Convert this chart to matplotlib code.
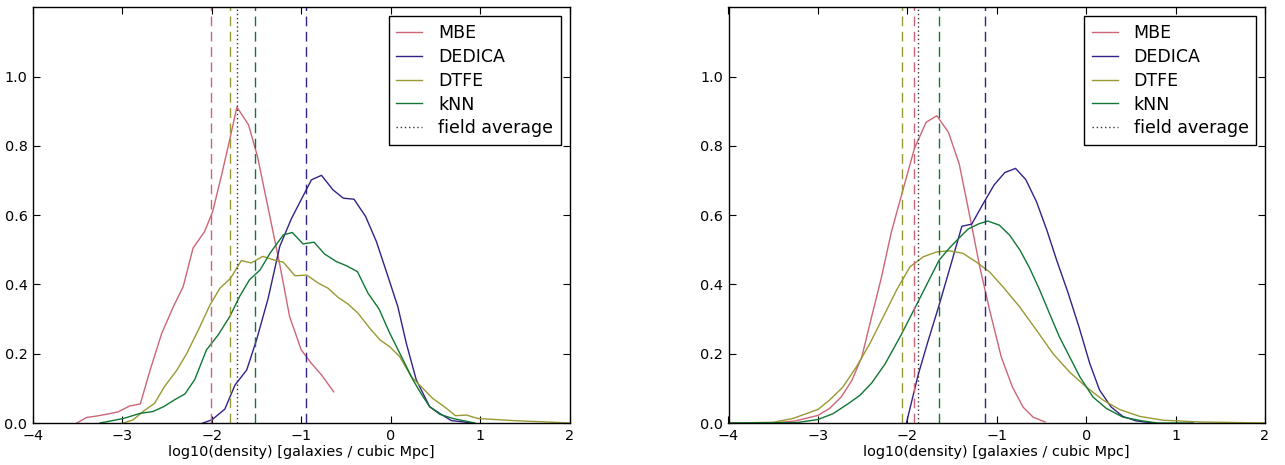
import matplotlib
matplotlib.use("Agg")
import matplotlib.pyplot as plt

# ---------------- data: left panel ----------------
L_mbe_x = [-3.51, -3.40, -3.29, -3.16, -3.05, -2.92, -2.80, -2.69, -2.56, -2.43, -2.32, -2.21,
           -2.08, -1.99, -1.89, -1.80, -1.72, -1.59, -1.49, -1.37, -1.24, -1.13, -1.00, -0.886,
           -0.774, -0.637]
L_mbe_y = [0.0, 0.016, 0.020, 0.026, 0.032, 0.049, 0.055, 0.153, 0.259, 0.336, 0.394, 0.505,
           0.553, 0.611, 0.717, 0.818, 0.912, 0.861, 0.770, 0.620, 0.457, 0.307, 0.211, 0.172,
           0.139, 0.090]

L_ded_x = [-2.10, -2.00, -1.855, -1.74, -1.61, -1.50, -1.37, -1.24, -1.11, -1.00, -0.886, -0.774,
           -0.645, -0.53, -0.41, -0.28, -0.16, -0.048, 0.08, 0.175, 0.287, 0.436, 0.547, 0.678, 0.92]
L_ded_y = [0.0, 0.009, 0.040, 0.110, 0.153, 0.240, 0.360, 0.510, 0.590, 0.645, 0.702, 0.715,
           0.673, 0.649, 0.646, 0.596, 0.524, 0.437, 0.336, 0.230, 0.124, 0.047, 0.028, 0.007, 0.0]

L_dtfe_x = [-2.99, -2.88, -2.77, -2.64, -2.53, -2.39, -2.28, -2.15, -2.02, -1.91, -1.79, -1.67,
            -1.56, -1.43, -1.31, -1.20, -1.07, -0.94, -0.81, -0.70, -0.59, -0.48, -0.365, -0.235,
            -0.12, -0.01, 0.10, 0.23, 0.36, 0.47, 0.60, 0.726, 0.846, 0.975, 1.37, 1.74, 2.0]
L_dtfe_y = [0.0, 0.009, 0.033, 0.057, 0.105, 0.153, 0.201, 0.269, 0.341, 0.389, 0.418, 0.469,
            0.462, 0.481, 0.471, 0.464, 0.425, 0.427, 0.404, 0.389, 0.363, 0.344, 0.317, 0.274,
            0.240, 0.220, 0.192, 0.134, 0.100, 0.071, 0.047, 0.021, 0.023, 0.013, 0.007, 0.003, 0.0]

L_knn_x = [-3.25, -2.99, -2.80, -2.66, -2.54, -2.41, -2.30, -2.19, -2.06, -1.93, -1.80, -1.69,
           -1.58, -1.46, -1.35, -1.20, -1.10, -0.98, -0.857, -0.74, -0.607, -0.495, -0.372,
           -0.254, -0.13, -0.01, 0.12, 0.25, 0.34, 0.436, 0.55, 0.697, 0.94]
L_knn_y = [0.0, 0.013, 0.028, 0.033, 0.047, 0.068, 0.084, 0.126, 0.211, 0.254, 0.307, 0.365,
           0.413, 0.442, 0.490, 0.543, 0.550, 0.517, 0.522, 0.488, 0.466, 0.454, 0.437,
           0.375, 0.329, 0.259, 0.192, 0.124, 0.085, 0.047, 0.025, 0.013, 0.0]

L_vlines = {"MBE": -2.01, "DEDICA": -0.95, "DTFE": -1.795, "kNN": -1.515}
L_field_avg = -1.72

# ---------------- data: right panel ----------------
R_mbe_x = [-4.0, -3.5, -3.25, -3.0, -2.87, -2.74, -2.62, -2.51, -2.40, -2.29, -2.18, -2.05,
           -1.92, -1.79, -1.67, -1.54, -1.42, -1.30, -1.19, -1.08, -0.95, -0.825, -0.706,
           -0.594, -0.46]
R_mbe_y = [0.0, 0.0, 0.006, 0.022, 0.042, 0.075, 0.123, 0.190, 0.306, 0.420, 0.550, 0.672,
           0.793, 0.868, 0.887, 0.839, 0.748, 0.595, 0.451, 0.326, 0.191, 0.104, 0.046,
           0.017, 0.003]

R_ded_x = [-2.01, -1.88, -1.77, -1.645, -1.51, -1.39, -1.28, -1.15, -1.03, -0.91, -0.79, -0.676,
           -0.556, -0.44, -0.33, -0.20, -0.08, 0.04, 0.15, 0.28, 0.41, 0.56, 0.75]
R_ded_y = [0.0, 0.138, 0.235, 0.340, 0.460, 0.568, 0.574, 0.634, 0.687, 0.723, 0.735, 0.703,
           0.639, 0.557, 0.470, 0.374, 0.277, 0.172, 0.095, 0.046, 0.019, 0.006, 0.0]

R_dtfe_x = [-4.0, -3.5, -3.28, -3.13, -3.0, -2.87, -2.72, -2.57, -2.42, -2.27, -2.12, -1.97,
            -1.82, -1.67, -1.53, -1.38, -1.23, -1.08, -0.93, -0.743, -0.556, -0.37, -0.185,
            0.0, 0.19, 0.374, 0.60, 0.86, 1.27, 2.0]
R_dtfe_y = [0.0, 0.002, 0.013, 0.027, 0.039, 0.066, 0.104, 0.162, 0.229, 0.306, 0.384, 0.451,
            0.480, 0.494, 0.497, 0.490, 0.465, 0.436, 0.393, 0.335, 0.268, 0.200, 0.147,
            0.104, 0.066, 0.039, 0.019, 0.008, 0.003, 0.0]

R_knn_x = [-4.0, -3.24, -3.0, -2.83, -2.66, -2.53, -2.40, -2.25, -2.07, -1.88, -1.645, -1.53,
           -1.41, -1.32, -1.20, -1.10, -0.97, -0.855, -0.74, -0.63, -0.52, -0.41, -0.30,
           -0.185, -0.07, 0.076, 0.226, 0.41, 0.63, 0.8, 1.2]
R_knn_y = [0.0, 0.001, 0.010, 0.027, 0.056, 0.080, 0.115, 0.170, 0.254, 0.350, 0.470, 0.505,
           0.537, 0.560, 0.575, 0.583, 0.571, 0.542, 0.499, 0.446, 0.384, 0.316, 0.249,
           0.191, 0.133, 0.075, 0.042, 0.017, 0.006, 0.0, 0.0]

R_vlines = {"MBE": -1.924, "DEDICA": -1.134, "DTFE": -2.065, "kNN": -1.645}
R_field_avg = -1.88

labels = ["MBE", "DEDICA", "DTFE", "kNN"]
colors = {"MBE": "#CC6677", "DEDICA": "#332288", "DTFE": "#999933", "kNN": "#117733"}
xticks = [-4, -3, -2, -1, 0, 1, 2]
yticks = [0.0, 0.2, 0.4, 0.6, 0.8, 1.0]
xlabel = "log10(density) [galaxies / cubic Mpc]"

plt.rcParams["font.family"] = ["DejaVu Sans"]

fig = plt.figure(figsize=(12.85, 4.65), dpi=100)
ax_l = fig.add_axes([33 / 1285, 42 / 465, 536.5 / 1285, 415.7 / 465])
ax_r = fig.add_axes([728.5 / 1285, 42 / 465, 536.5 / 1285, 415.7 / 465])

panels = [
    (ax_l, {"MBE": (L_mbe_x, L_mbe_y), "DEDICA": (L_ded_x, L_ded_y),
            "DTFE": (L_dtfe_x, L_dtfe_y), "kNN": (L_knn_x, L_knn_y)}, L_vlines, L_field_avg),
    (ax_r, {"MBE": (R_mbe_x, R_mbe_y), "DEDICA": (R_ded_x, R_ded_y),
            "DTFE": (R_dtfe_x, R_dtfe_y), "kNN": (R_knn_x, R_knn_y)}, R_vlines, R_field_avg),
]

for ax, series, vlines, favg in panels:
    for name in labels:
        xs, ys = series[name]
        ax.plot(xs, ys, color=colors[name], lw=1.0, label=name)
    for name in labels:
        ax.axvline(vlines[name], color=colors[name], lw=1.0, linestyle=(0, (7, 4)))
    ax.axvline(favg, color="#333333", lw=1.0, linestyle=(0, (1, 2)), label="field average")
    ax.set_xlim(-4, 2)
    ax.set_ylim(0, 1.2)
    ax.set_xticks(xticks)
    ax.set_xticklabels(["\u22124", "\u22123", "\u22122", "\u22121", "0", "1", "2"])
    ax.set_yticks(yticks)
    ax.set_yticklabels(["0.0", "0.2", "0.4", "0.6", "0.8", "1.0"])
    ax.tick_params(direction="in", top=True, right=True, length=5, width=0.8,
                   labelsize=10.4, pad=4)
    for sp in ax.spines.values():
        sp.set_linewidth(1.0)
    ax.set_xlabel(xlabel, fontsize=10.4, labelpad=2)
    leg = ax.legend(loc="upper right", fontsize=12.5, handlelength=1.5, labelspacing=0.34,
                    fancybox=False, framealpha=1, edgecolor="black", borderaxespad=0.5,
                    handletextpad=0.9, borderpad=0.45)
    leg.get_frame().set_linewidth(1.0)

fig.savefig("out.png", dpi=100, facecolor="white")
